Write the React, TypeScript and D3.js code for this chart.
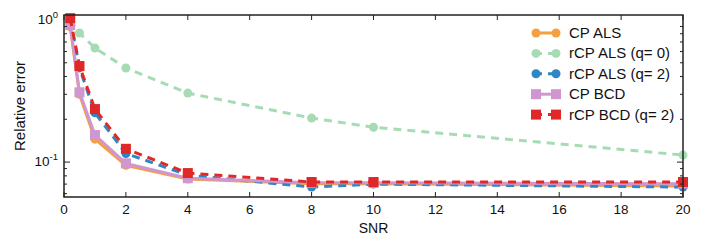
import React from "react";
import * as d3 from "d3";

const snr = [0.2, 0.5, 1, 2, 4, 8, 10, 20];
const cpAls = [0.9, 0.3, 0.145, 0.095, 0.076, 0.0705, 0.0705, 0.068];
const rcpAls0 = [1.0, 0.81, 0.635, 0.459, 0.306, 0.204, 0.176, 0.112];
const rcpAls2 = [1.0, 0.46, 0.222, 0.115, 0.081, 0.0667, 0.07, 0.0667];
const cpBcd = [0.92, 0.31, 0.155, 0.098, 0.077, 0.0715, 0.0715, 0.0705];
const rcpBcd2 = [1.03, 0.474, 0.236, 0.124, 0.0837, 0.0724, 0.0724, 0.0724];
const xTicks = [0, 2, 4, 6, 8, 10, 12, 14, 16, 18, 20];

type S = { name: string; values: number[]; color: string; dashed: boolean; marker: "circle" | "square" };
const series: S[] = [
  { name: "CP ALS", values: cpAls, color: "#f5a040", dashed: false, marker: "circle" },
  { name: "rCP ALS (q= 0)", values: rcpAls0, color: "#a6dcb4", dashed: true, marker: "circle" },
  { name: "rCP ALS (q= 2)", values: rcpAls2, color: "#2f86c4", dashed: true, marker: "circle" },
  { name: "CP BCD", values: cpBcd, color: "#cf96cf", dashed: false, marker: "square" },
  { name: "rCP BCD (q= 2)", values: rcpBcd2, color: "#e02828", dashed: true, marker: "square" },
];

const W = 706, H = 249;
const L = 64, R = 683, T = 15, B = 197;
const font = "'Liberation Sans', Arial, sans-serif";

export default function App() {
  const x = d3.scaleLinear().domain([0, 20]).range([L, R]);
  const y = d3.scaleLog().domain([0.0568, 1.084]).range([B, T]);
  const line = d3.line<number>().x((_, i) => x(snr[i])).y((v) => y(v));
  const minor: number[] = [];
  for (let d = 0.01; d < 1; d *= 10) for (let k = 1; k <= 9; k++) {
    const v = d * k;
    if (v >= 0.0568 && v <= 1.084) minor.push(v);
  }
  const marker = (s: S, cx: number, cy: number, key: string) =>
    s.marker === "circle" ? (
      <circle key={key} cx={cx} cy={cy} r={4.5} fill={s.color} />
    ) : (
      <rect key={key} x={cx - 5} y={cy - 5} width={10} height={10} fill={s.color} />
    );
  return (
    <svg width={W} height={H} style={{ position: "absolute", left: 0, top: 0 }} fontFamily={font}>
      <rect width={W} height={H} fill="#fff" />
      {series.map((s) => (
        <g key={s.name}>
          <path d={line(s.values) || ""} fill="none" stroke={s.color} strokeWidth={3}
            strokeDasharray={s.dashed ? "8,6" : undefined} />
          {s.values.map((v, i) => marker(s, x(snr[i]), y(v), s.name + i))}
        </g>
      ))}
      <rect x={L} y={T} width={R - L} height={B - T} fill="none" stroke="#222" strokeWidth={1.5} />
      {xTicks.map((t) => (
        <g key={t}>
          <line x1={x(t)} x2={x(t)} y1={B} y2={B - 5} stroke="#222" />
          <line x1={x(t)} x2={x(t)} y1={T} y2={T + 5} stroke="#222" />
          <text x={x(t)} y={B + 17} textAnchor="middle" fontSize={13.5} fill="#111">{t}</text>
        </g>
      ))}
      {minor.map((v) => {
        const major = Math.abs(Math.log10(v) - Math.round(Math.log10(v))) < 1e-6;
        const len = major ? 6 : 3;
        return (
          <g key={v}>
            <line x1={L} x2={L + len} y1={y(v)} y2={y(v)} stroke="#222" />
            <line x1={R} x2={R - len} y1={y(v)} y2={y(v)} stroke="#222" />
          </g>
        );
      })}
      {[1, 0.1].map((v) => (
        <text key={v} x={L - 6} y={y(v) + 4} textAnchor="end" fontSize={13.5} fill="#111">
          10<tspan dy={-6} fontSize={9.5}>{v === 1 ? "0" : "-1"}</tspan>
        </text>
      ))}
      <text x={x(10)} y={B + 36} textAnchor="middle" fontSize={14} fill="#111">SNR</text>
      <text transform={`translate(25,${(T + B) / 2}) rotate(-90)`} textAnchor="middle" fontSize={15} fill="#111">Relative error</text>
      {series.map((s, i) => {
        const ly = 33 + i * 20.4;
        return (
          <g key={"lg" + s.name}>
            <line x1={536} x2={556} y1={ly} y2={ly} stroke={s.color} strokeWidth={3}
              strokeDasharray={s.dashed ? "6,6" : undefined} />
            {marker(s, 536, ly, "lm" + i)}
            {marker(s, 556, ly, "lm2" + i)}
            <text x={569} y={ly + 5} fontSize={15} fill="#111">{s.name}</text>
          </g>
        );
      })}
    </svg>
  );
}
